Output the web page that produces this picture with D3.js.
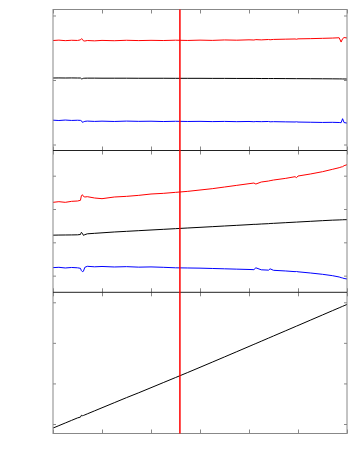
<!DOCTYPE html>
<html>
<head>
<meta charset="utf-8">
<script src="https://cdn.jsdelivr.net/npm/d3@7"></script>
<style>
  body { margin: 0; background: #fff; }
  .tick line { stroke: #888; }
</style>
</head>
<body>
<script>
// sample positions (shared by every trace)
var xs = [0, 12, 25, 38, 50, 56, 58, 60, 62, 65, 70, 85, 100, 125, 150, 175, 200, 225, 250, 275, 300,
          325, 350, 375, 400, 410, 414, 425, 440, 443, 450, 475, 494, 497, 500, 525, 550, 570, 584, 588, 591, 594, 600];

var p1Red = [0.612, 0.618, 0.610, 0.616, 0.613, 0.622, 0.640, 0.632, 0.608, 0.604, 0.612, 0.607, 0.614, 0.609,
             0.616, 0.611, 0.615, 0.612, 0.617, 0.613, 0.618, 0.614, 0.621, 0.617, 0.623, 0.620, 0.626, 0.622,
             0.628, 0.624, 0.629, 0.633, 0.636, 0.632, 0.638, 0.641, 0.646, 0.650, 0.655, 0.588, 0.640, 0.658, 0.652];
var p1Black = [0.031, 0.032, 0.031, 0.032, 0.031, 0.031, 0.018, 0.020, 0.026, 0.028, 0.029, 0.029, 0.028, 0.028,
               0.028, 0.027, 0.027, 0.027, 0.026, 0.026, 0.026, 0.025, 0.025, 0.024, 0.024, 0.024, 0.024, 0.023,
               0.023, 0.023, 0.023, 0.022, 0.021, 0.021, 0.021, 0.020, 0.019, 0.018, 0.017, 0.017, 0.016, 0.016, 0.015];
var p1Blue = [-0.623, -0.628, -0.621, -0.627, -0.624, -0.626, -0.632, -0.656, -0.650, -0.641, -0.637, -0.642,
              -0.638, -0.643, -0.637, -0.641, -0.639, -0.644, -0.640, -0.643, -0.641, -0.645, -0.642, -0.646, -0.643,
              -0.647, -0.644, -0.646, -0.643, -0.648, -0.646, -0.649, -0.651, -0.648, -0.652, -0.655, -0.658, -0.656,
              -0.659, -0.662, -0.600, -0.660, -0.668];

var p2Red = [2.20, 2.22, 2.20, 2.23, 2.24, 2.26, 2.40, 2.43, 2.38, 2.36, 2.37, 2.33, 2.31, 2.36, 2.38, 2.41, 2.45,
             2.47, 2.50, 2.53, 2.57, 2.61, 2.66, 2.71, 2.76, 2.78, 2.75, 2.81, 2.84, 2.85, 2.87, 2.92, 2.97, 2.94,
             2.99, 3.05, 3.12, 3.19, 3.24, 3.26, 3.27, 3.30, 3.33];
var p2Black = [1.215, 1.218, 1.220, 1.222, 1.225, 1.235, 1.30, 1.27, 1.21, 1.23, 1.255, 1.27, 1.285, 1.31, 1.33,
               1.35, 1.37, 1.39, 1.41, 1.43, 1.45, 1.47, 1.49, 1.51, 1.53, 1.54, 1.54, 1.55, 1.56, 1.565, 1.57, 1.59,
               1.605, 1.607, 1.61, 1.63, 1.65, 1.665, 1.672, 1.675, 1.677, 1.679, 1.68];
var p2Blue = [0.24, 0.25, 0.23, 0.245, 0.235, 0.22, 0.15, 0.12, 0.13, 0.25, 0.28, 0.265, 0.275, 0.26, 0.27, 0.255,
              0.262, 0.25, 0.235, 0.23, 0.225, 0.215, 0.205, 0.195, 0.185, 0.18, 0.235, 0.175, 0.165, 0.205, 0.16,
              0.14, 0.12, 0.125, 0.115, 0.08, 0.04, 0.0, -0.04, -0.06, -0.07, -0.085, -0.10];

var p3Black = [-0.10, -0.04, 0.025, 0.09, 0.15, 0.17, 0.215, 0.205, 0.21, 0.225, 0.25, 0.325, 0.40, 0.525, 0.65,
               0.77, 0.895, 1.02, 1.145, 1.27, 1.397, 1.525, 1.653, 1.782, 1.911, 1.963, 1.983, 2.04, 2.118, 2.133,
               2.17, 2.299, 2.397, 2.413, 2.428, 2.558, 2.688, 2.792, 2.864, 2.885, 2.9, 2.916, 2.947];

var markerX = [259];
var xTicks = [0, 100, 200, 300, 400, 500, 600];
var p1Ticks = [-1, 0, 1];
var p2Ticks = [0, 1, 2, 3];
var p3Ticks = [0, 1, 2, 3];

var width = 354, height = 472,
    left = 53, right = 347;

var panels = [
  {top: 9.5, bottom: 150.5, domain: [-1.093, 1.093], ticks: p1Ticks,
   series: [{v: p1Red, c: "#ff0000"}, {v: p1Black, c: "#000"}, {v: p1Blue, c: "#0000ff"}]},
  {top: 150.5, bottom: 292.3, domain: [-0.5, 3.756], ticks: p2Ticks,
   series: [{v: p2Red, c: "#ff0000"}, {v: p2Black, c: "#000"}, {v: p2Blue, c: "#0000ff"}]},
  {top: 292.3, bottom: 433.5, domain: [-0.234, 3.246], ticks: p3Ticks,
   series: [{v: p3Black, c: "#000"}]}
];

var x = d3.scaleLinear().domain([0, 600]).range([left, right]);

var svg = d3.select("body").append("svg")
    .attr("width", width)
    .attr("height", height);

panels.forEach(function(p) {
  var y = d3.scaleLinear().domain(p.domain).range([p.bottom, p.top]);
  var g = svg.append("g");

  var line = d3.line()
      .x(function(d, i) { return x(xs[i]); })
      .y(function(d) { return y(d); });

  p.series.forEach(function(s) {
    g.append("path")
        .attr("d", line(s.v))
        .attr("fill", "none")
        .attr("stroke", s.c)
        .attr("stroke-width", 1);
  });

  // inward ticks on all four sides, no labels
  g.append("g").attr("transform", "translate(" + left + ",0)")
      .call(d3.axisLeft(y).tickValues(p.ticks).tickSize(-3).tickSizeOuter(0).tickFormat(""));
  g.append("g").attr("transform", "translate(" + right + ",0)")
      .call(d3.axisRight(y).tickValues(p.ticks).tickSize(-3).tickSizeOuter(0).tickFormat(""));
  g.append("g").attr("transform", "translate(0," + p.top + ")")
      .call(d3.axisTop(x).tickValues(xTicks).tickSize(-4).tickSizeOuter(0).tickFormat(""));
  g.append("g").attr("transform", "translate(0," + p.bottom + ")")
      .call(d3.axisBottom(x).tickValues(xTicks).tickSize(-4).tickSizeOuter(0).tickFormat(""));
  g.selectAll(".domain").remove();
});

// outer frame
svg.append("rect")
    .attr("x", left)
    .attr("y", panels[0].top)
    .attr("width", right - left)
    .attr("height", panels[2].bottom - panels[0].top)
    .attr("fill", "none")
    .attr("stroke", "#888");

// panel separators
svg.selectAll(".sep")
    .data([panels[0].bottom, panels[1].bottom])
  .enter().append("line")
    .attr("class", "sep")
    .attr("x1", left).attr("x2", right)
    .attr("y1", function(d) { return d; })
    .attr("y2", function(d) { return d; })
    .attr("stroke", "#222");

// vertical marker
svg.selectAll(".marker")
    .data(markerX)
  .enter().append("line")
    .attr("class", "marker")
    .attr("x1", function(d) { return x(d); })
    .attr("x2", function(d) { return x(d); })
    .attr("y1", panels[0].top)
    .attr("y2", panels[2].bottom)
    .attr("stroke", "#ff0000")
    .attr("stroke-width", 1.5);
</script>
</body>
</html>
